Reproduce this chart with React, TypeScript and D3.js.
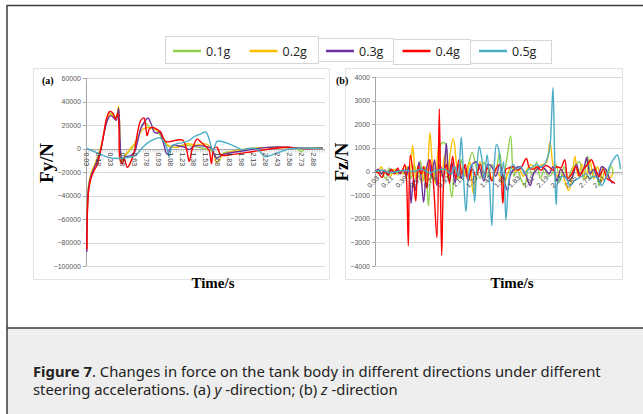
import React, { useEffect, useRef } from 'react';
import * as d3 from 'd3';

type Pt = [number, number];

const seriesNames = ['0.1g', '0.2g', '0.3g', '0.4g', '0.5g'];
const seriesColors = ['#92d050', '#ffc000', '#7030a0', '#ff0000', '#4bacc6'];

const yTicksA = [60000, 40000, 20000, 0, -20000, -40000, -60000, -80000, -100000];
const yTicksB = [4000, 3000, 2000, 1000, 0, -1000, -2000, -3000, -4000];
const xLabelsA = ['0.03', '0.18', '0.33', '0.48', '0.63', '0.78', '0.93', '1.08', '1.23', '1.38', '1.53', '1.68', '1.83', '1.98', '2.13', '2.28', '2.43', '2.58', '2.73', '2.88'];
const xLabelsB = ['0.03', '0.21', '0.39', '0.57', '0.75', '0.93', '1.11', '1.29', '1.47', '1.65', '1.83', '2.01', '2.19', '2.37', '2.55', '2.73', '2.91'];

// (a) Fy, N
const fy01: Pt[] = [[0.03,-85000],[0.05,-34000],[0.08,-23000],[0.12,-16000],[0.17,-8000],[0.21,1000],[0.25,14000],[0.29,26000],[0.33,30000],[0.37,28000],[0.4,27000],[0.43,33000],[0.45,0],[0.47,-10000],[0.52,-6000],[0.58,-1000],[0.63,3000],[0.68,10000],[0.73,20000],[0.77,22000],[0.82,18000],[0.88,17000],[0.94,13000],[1.0,5000],[1.05,2000],[1.15,1000],[1.25,3000],[1.35,2000],[1.5,0],[1.6,-2000],[1.67,-8000],[1.75,-4000],[1.9,-2000],[2.1,0],[2.4,1000],[2.62,500],[2.7,-1000],[2.73,-3000],[2.78,0],[3.0,500]];
const fy02: Pt[] = [[0.03,-85000],[0.05,-33000],[0.08,-22000],[0.12,-15000],[0.17,-7000],[0.21,2000],[0.25,15000],[0.29,26000],[0.33,29000],[0.37,27000],[0.4,26000],[0.43,36000],[0.45,2000],[0.47,-12000],[0.52,-5000],[0.58,0],[0.63,4000],[0.68,11000],[0.73,16000],[0.8,18000],[0.86,17000],[0.93,15000],[0.98,10000],[1.05,3000],[1.15,1000],[1.22,2000],[1.3,4000],[1.4,3000],[1.5,4000],[1.56,3000],[1.62,-3000],[1.67,-12000],[1.75,-5000],[1.9,-2000],[2.1,0],[2.4,1000],[2.7,500],[3.0,0]];
const fy03: Pt[] = [[0.03,-88000],[0.05,-35000],[0.08,-24000],[0.12,-17000],[0.17,-9000],[0.21,0],[0.25,14000],[0.29,24000],[0.33,28000],[0.37,26000],[0.4,24000],[0.43,34000],[0.45,5000],[0.47,-8000],[0.52,-7000],[0.58,-6000],[0.63,-3000],[0.67,6000],[0.71,17000],[0.76,23000],[0.8,26000],[0.84,21000],[0.88,14000],[0.92,13000],[0.95,14000],[0.99,6000],[1.04,-5000],[1.08,0],[1.12,3000],[1.2,2000],[1.27,1000],[1.32,-1000],[1.38,2000],[1.5,2000],[1.6,0],[1.66,-8000],[1.75,-5000],[1.9,-3000],[2.1,-1000],[2.3,1000],[2.6,1000],[2.8,0],[3.0,500]];
const fy04: Pt[] = [[0.03,-86000],[0.05,-38000],[0.08,-26000],[0.12,-19000],[0.16,-14000],[0.2,-3000],[0.24,11000],[0.28,26000],[0.32,31500],[0.36,30000],[0.39,25000],[0.42,30000],[0.435,18000],[0.45,-10000],[0.48,-13000],[0.5,-8000],[0.54,-16000],[0.58,-12000],[0.63,-2000],[0.67,14000],[0.71,24000],[0.75,26000],[0.77,20000],[0.79,11000],[0.82,17000],[0.86,18000],[0.92,16000],[0.96,14000],[1.02,6000],[1.09,6000],[1.15,7000],[1.24,7000],[1.29,-2000],[1.32,-11000],[1.36,0],[1.42,8000],[1.46,6000],[1.53,1500],[1.57,-1500],[1.6,-13000],[1.63,0],[1.67,1000],[1.72,-5500],[1.87,-5000],[2.13,-2500],[2.38,0],[2.59,1000],[2.76,0],[3.0,0]];
const fy05: Pt[] = [[0.03,0],[0.1,-2000],[0.2,-5000],[0.3,-7500],[0.4,-8500],[0.5,-8000],[0.6,-7000],[0.66,-5000],[0.72,0],[0.8,5000],[0.88,8000],[0.95,9000],[1.0,6000],[1.04,0],[1.07,-7000],[1.1,2000],[1.16,4000],[1.24,5000],[1.32,7000],[1.38,10000],[1.45,12000],[1.53,14000],[1.57,8000],[1.62,-2000],[1.67,6000],[1.73,6000],[1.82,4000],[1.92,1000],[1.98,-1000],[2.06,0],[2.15,0],[2.2,-2000],[2.28,-7000],[2.38,-5000],[2.5,-2000],[2.6,0],[3.0,0]];

// (b) Fz, N
const fz01: Pt[] = [[0.01,0],[0.06,50],[0.1,-100],[0.15,-300],[0.19,150],[0.23,-50],[0.27,100],[0.31,-100],[0.35,50],[0.39,-100],[0.43,200],[0.47,-300],[0.51,300],[0.55,-200],[0.59,450],[0.63,-400],[0.66,200],[0.69,-1450],[0.72,-200],[0.75,300],[0.78,-400],[0.82,400],[0.86,1200],[0.9,1200],[0.94,300],[0.99,-1100],[1.03,200],[1.07,-300],[1.11,500],[1.15,-200],[1.2,300],[1.25,800],[1.3,200],[1.35,-300],[1.4,400],[1.45,-200],[1.5,300],[1.55,100],[1.6,800],[1.64,-300],[1.69,500],[1.74,1500],[1.78,-200],[1.82,100],[1.87,-300],[1.92,-600],[1.97,200],[2.02,-200],[2.07,400],[2.12,-300],[2.17,100],[2.22,-200],[2.27,-100],[2.32,300],[2.37,-400],[2.42,200],[2.47,-300],[2.52,100],[2.57,300],[2.62,400],[2.67,-300],[2.72,650],[2.77,-300],[2.82,200],[2.87,-600],[2.92,200],[2.97,-200],[3.02,250],[3.05,-100]];
const fz02: Pt[] = [[0.01,0],[0.05,-50],[0.09,200],[0.13,-100],[0.17,0],[0.21,-200],[0.25,100],[0.29,-100],[0.33,0],[0.37,-100],[0.41,200],[0.45,-300],[0.49,1100],[0.53,-300],[0.56,300],[0.6,-500],[0.64,200],[0.67,-400],[0.71,1650],[0.74,400],[0.78,-500],[0.82,1100],[0.86,-200],[0.9,700],[0.94,-300],[0.97,800],[1.01,1400],[1.05,300],[1.09,-300],[1.13,200],[1.17,-200],[1.22,400],[1.26,-900],[1.3,-200],[1.35,400],[1.4,-300],[1.45,200],[1.5,-300],[1.55,100],[1.6,-200],[1.65,-600],[1.7,-100],[1.75,200],[1.8,0],[1.85,100],[1.9,-200],[1.95,100],[2.0,300],[2.05,100],[2.1,200],[2.15,300],[2.2,400],[2.24,1250],[2.28,300],[2.33,-200],[2.38,100],[2.43,-400],[2.48,-800],[2.52,-300],[2.56,650],[2.6,-200],[2.65,300],[2.7,-300],[2.75,500],[2.8,-300],[2.85,200],[2.9,-400],[2.95,100],[3.0,-300],[3.04,-100]];
const fz03: Pt[] = [[0.01,0],[0.05,100],[0.09,-100],[0.13,50],[0.17,-150],[0.21,100],[0.25,-50],[0.29,50],[0.33,-100],[0.37,100],[0.41,-200],[0.44,200],[0.47,-1350],[0.5,-300],[0.53,-800],[0.57,400],[0.6,-300],[0.63,-1300],[0.67,200],[0.7,500],[0.73,-200],[0.77,500],[0.8,-600],[0.84,300],[0.88,-300],[0.92,1200],[0.95,-200],[0.99,400],[1.03,-500],[1.07,300],[1.11,-300],[1.15,200],[1.2,-400],[1.25,300],[1.3,400],[1.35,100],[1.4,-400],[1.45,300],[1.5,200],[1.55,-200],[1.6,300],[1.65,-300],[1.7,-800],[1.74,-100],[1.79,100],[1.84,200],[1.89,100],[1.94,-200],[1.99,-600],[2.03,-100],[2.08,100],[2.13,200],[2.18,100],[2.23,-100],[2.28,200],[2.33,-400],[2.38,100],[2.43,-200],[2.48,-400],[2.53,-200],[2.58,300],[2.62,-100],[2.67,100],[2.71,600],[2.75,-100],[2.8,100],[2.85,-300],[2.9,200],[2.95,100],[3.0,-300],[3.04,-500]];
const fz04: Pt[] = [[0.01,0],[0.05,-50],[0.1,-250],[0.14,50],[0.18,-150],[0.22,100],[0.26,-100],[0.3,150],[0.33,-50],[0.36,50],[0.39,300],[0.41,-200],[0.435,-3150],[0.46,700],[0.49,100],[0.53,-1250],[0.56,200],[0.6,-100],[0.63,200],[0.67,-700],[0.71,500],[0.75,-300],[0.8,-2800],[0.83,2650],[0.86,-3550],[0.89,-200],[0.92,300],[0.96,-500],[1.0,650],[1.04,-300],[1.08,500],[1.12,-100],[1.16,300],[1.2,-400],[1.25,100],[1.3,-200],[1.35,300],[1.4,-100],[1.45,150],[1.5,-400],[1.55,100],[1.6,300],[1.64,-1350],[1.68,100],[1.72,150],[1.78,200],[1.83,50],[1.88,200],[1.94,550],[1.98,150],[2.03,100],[2.08,200],[2.13,50],[2.18,250],[2.23,200],[2.28,50],[2.33,200],[2.38,150],[2.43,500],[2.47,-300],[2.52,-100],[2.57,200],[2.62,-200],[2.67,100],[2.72,300],[2.77,500],[2.82,100],[2.87,-200],[2.92,100],[2.97,-300],[3.02,-400],[3.07,-500]];
const fz05: Pt[] = [[0.01,0],[0.1,50],[0.2,-50],[0.3,0],[0.4,50],[0.5,0],[0.6,100],[0.7,-50],[0.8,50],[0.9,100],[0.98,-100],[1.03,200],[1.07,-200],[1.11,1450],[1.14,-300],[1.17,-1700],[1.21,0],[1.25,300],[1.28,-1300],[1.31,200],[1.34,1050],[1.37,600],[1.4,-300],[1.44,700],[1.47,-500],[1.5,-2300],[1.53,200],[1.56,1150],[1.59,900],[1.62,-200],[1.65,400],[1.68,-2050],[1.72,-300],[1.77,300],[1.82,100],[1.87,200],[1.92,-100],[1.97,100],[2.02,200],[2.07,300],[2.12,200],[2.17,300],[2.21,600],[2.24,1000],[2.26,2200],[2.28,3550],[2.3,800],[2.32,-1400],[2.35,-300],[2.4,-200],[2.45,-300],[2.5,-600],[2.55,-400],[2.6,-300],[2.65,-200],[2.7,-100],[2.75,-300],[2.8,-200],[2.85,-300],[2.9,-600],[2.95,-300],[3.0,200],[3.05,500],[3.1,700],[3.14,100]];

const fyData = [fy01, fy02, fy03, fy04, fy05];
const fzData = [fz01, fz02, fz03, fz04, fz05];

const W = 643;
const H = 414;

export default function App() {
    const svgRef = useRef<SVGSVGElement | null>(null);

    useEffect(() => {
        if (!svgRef.current) return;
        const svg = d3.select(svgRef.current);
        svg.selectAll("*").remove();

        // card
        svg.append("rect").attr("x", 0).attr("y", 0).attr("width", W).attr("height", H).attr("fill", "#fff");
        svg.append("rect").attr("x", 7).attr("y", 328).attr("width", W).attr("height", H - 328).attr("fill", "#eeeeee");
        svg.append("line").attr("x1", 7).attr("x2", W).attr("y1", 5.5).attr("y2", 5.5).attr("stroke", "#3a3a3a").attr("stroke-width", 1.5);
        svg.append("line").attr("x1", 7).attr("x2", W).attr("y1", 328).attr("y2", 328).attr("stroke", "#3a3a3a").attr("stroke-width", 1.5);
        svg.append("line").attr("x1", 7).attr("x2", 7).attr("y1", 5).attr("y2", H).attr("stroke", "#3a3a3a").attr("stroke-width", 1.5);

        // panel frames
        svg.append("rect").attr("x", 33.5).attr("y", 68.5).attr("width", 296).attr("height", 211)
            .attr("fill", "none").attr("stroke", "#e3e3e3");
        svg.append("rect").attr("x", 345.5).attr("y", 68.5).attr("width", 277).attr("height", 211)
            .attr("fill", "none").attr("stroke", "#e3e3e3");

        // legend (pieced boxes)
        const boxes = [[165, 36, 153, 27], [318, 38, 75, 23], [393, 39, 77, 25], [470, 40, 81, 23]];
        boxes.forEach(b => {
            svg.append("rect").attr("x", b[0] + 0.5).attr("y", b[1] + 0.5).attr("width", b[2]).attr("height", b[3])
                .attr("fill", "#fff").attr("stroke", "#d6d6d6");
        });
        seriesNames.forEach((name, i) => {
            const lx = 173 + i * 76.5;
            svg.append("line").attr("x1", lx).attr("x2", lx + 28).attr("y1", 51).attr("y2", 51)
                .attr("stroke", seriesColors[i]).attr("stroke-width", 2.5);
            svg.append("text").attr("x", lx + 33).attr("y", 55.5).text(name)
                .style("font-family", "'Open Sans', sans-serif").style("font-size", "12.5px").attr("fill", "#222");
        });

        type PanelCfg = {
            x0: number; x1: number; y0: number; y1: number;
            tDomain: [number, number]; vDomain: [number, number];
            yTicks: number[]; xLabels: string[]; data: Pt[][];
            tag: string; yTitle: string; titleX: number; titleY: number; tagX: number; timeX: number;
            rotate: number;
        };

        const drawPanel = (c: PanelCfg) => {
            const x = d3.scaleLinear().domain(c.tDomain).range([c.x0, c.x1]);
            const y = d3.scaleLinear().domain(c.vDomain).range([c.y1, c.y0]);
            const g = svg.append("g");

            // grid
            g.selectAll(".grid").data(c.yTicks).join("line")
                .attr("x1", c.x0).attr("x2", c.x1)
                .attr("y1", d => Math.round(y(d)) + 0.5).attr("y2", d => Math.round(y(d)) + 0.5)
                .attr("stroke", "#d9d9d9").attr("stroke-width", 1);
            // y axis line and ticks
            g.append("line").attr("x1", c.x0 + 0.5).attr("x2", c.x0 + 0.5).attr("y1", y(c.vDomain[1])).attr("y2", y(c.vDomain[0]))
                .attr("stroke", "#a6a6a6");
            g.selectAll(".ytk").data(c.yTicks).join("line")
                .attr("x1", c.x0 - 3).attr("x2", c.x0)
                .attr("y1", d => Math.round(y(d)) + 0.5).attr("y2", d => Math.round(y(d)) + 0.5)
                .attr("stroke", "#a6a6a6");
            g.selectAll(".ylab").data(c.yTicks).join("text")
                .attr("x", c.x0 - 5).attr("y", d => y(d) + 2.5)
                .attr("text-anchor", "end")
                .style("font-family", "'Liberation Sans', Arial, sans-serif").style("font-size", "7px")
                .attr("fill", "#595959")
                .text(d => d3.format("d")(d));

            // x axis at zero with dense minor ticks
            const zy = Math.round(y(0)) + 0.5;
            g.append("line").attr("x1", c.x0).attr("x2", c.x1).attr("y1", zy).attr("y2", zy).attr("stroke", "#a6a6a6");
            const minor = d3.range(c.tDomain[0], c.tDomain[1], 0.03);
            g.selectAll(".mtk").data(minor).join("line")
                .attr("x1", d => x(d)).attr("x2", d => x(d)).attr("y1", zy).attr("y2", zy + 3)
                .attr("stroke", "#b0b0b0").attr("stroke-width", 0.6);

            // lines
            const line = d3.line<Pt>().x(d => x(d[0])).y(d => y(d[1])).curve(d3.curveCatmullRom.alpha(0.5));
            c.data.forEach((s, i) => {
                g.append("path").datum(s).attr("d", line)
                    .attr("fill", "none").attr("stroke", seriesColors[i]).attr("stroke-width", 1.4)
                    .attr("stroke-linejoin", "round");
            });

            // x labels on top of lines
            c.xLabels.forEach(l => {
                const t = +l;
                const px = x(t);
                const txt = g.append("text")
                    .style("font-family", "'Liberation Sans', Arial, sans-serif").style("font-size", "7px")
                    .attr("fill", "#404040").text(l);
                if (c.rotate === 90) {
                    txt.attr("transform", `translate(${px - 2.5},${zy + 3}) rotate(90)`).attr("text-anchor", "start");
                } else {
                    txt.attr("transform", `translate(${px + 3},${zy + 6}) rotate(-45)`).attr("text-anchor", "end");
                }
            });

            // titles
            svg.append("text").attr("x", c.tagX).attr("y", 84).text(c.tag)
                .style("font-family", "'Liberation Serif', serif").style("font-weight", "bold").style("font-size", "10px");
            svg.append("text").attr("transform", `translate(${c.titleX},${c.titleY}) rotate(-90)`)
                .attr("text-anchor", "middle").attr("dy", "0.35em").text(c.yTitle)
                .style("font-family", "'Liberation Serif', serif").style("font-weight", "bold").style("font-size", "19px");
            svg.append("text").attr("x", c.timeX).attr("y", 288).attr("text-anchor", "middle").text("Time/s")
                .style("font-family", "'Liberation Serif', serif").style("font-weight", "bold").style("font-size", "15px");
        };

        drawPanel({
            x0: 86, x1: 325, y0: 78, y1: 266,
            tDomain: [0.02, 3.03], vDomain: [-100000, 60000],
            yTicks: yTicksA, xLabels: xLabelsA, data: fyData,
            tag: "(a)", yTitle: "Fy/N", titleX: 46, titleY: 163, tagX: 42, timeX: 213, rotate: 90,
        });
        drawPanel({
            x0: 375, x1: 622, y0: 77, y1: 266,
            tDomain: [0.01, 3.16], vDomain: [-4000, 4000],
            yTicks: yTicksB, xLabels: xLabelsB, data: fzData,
            tag: "(b)", yTitle: "Fz/N", titleX: 341, titleY: 162, tagX: 336, timeX: 512, rotate: -45,
        });

        // caption
        const cap = svg.append("g").style("font-family", "'Noto Sans', sans-serif").style("font-size", "14.8px").attr("fill", "#222");
        const l1 = cap.append("text").attr("x", 33).attr("y", 377);
        l1.append("tspan").style("font-weight", "bold").text("Figure 7");
        l1.append("tspan").text(". Changes in force on the tank body in different directions under different");
        const l2 = cap.append("text").attr("x", 33).attr("y", 395);
        l2.append("tspan").text("steering accelerations. (a) ");
        l2.append("tspan").style("font-style", "italic").text("y");
        l2.append("tspan").text(" -direction; (b) ");
        l2.append("tspan").style("font-style", "italic").text("z");
        l2.append("tspan").text(" -direction");
    }, []);

    return (
        <svg ref={svgRef} width={W} height={H} style={{ position: 'absolute', left: 0, top: 0 }}></svg>
    );
}
